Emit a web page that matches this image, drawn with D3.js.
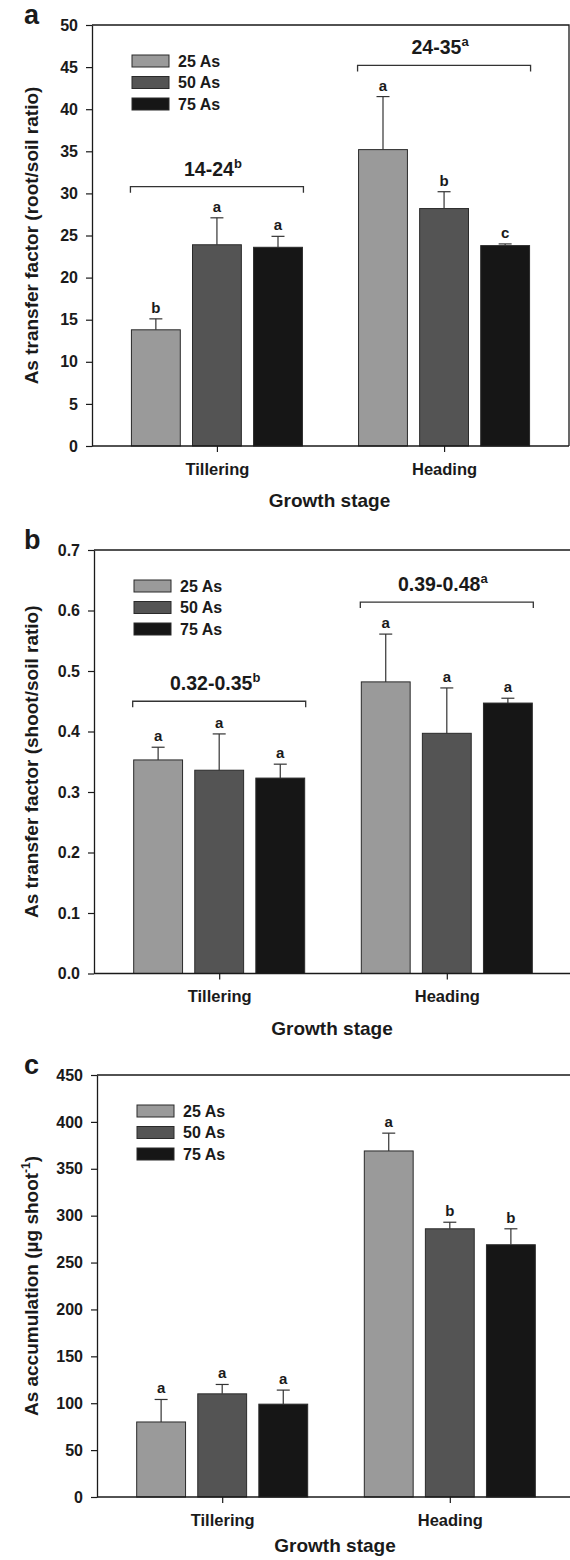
<!DOCTYPE html>
<html>
<head>
<meta charset="utf-8">
<script src="https://cdn.jsdelivr.net/npm/d3@7"></script>
<style>
  body { margin: 0; background: #fff; }
  svg text { font-family: "Liberation Sans", Arial, sans-serif; font-weight: bold; fill: #1a1a1a; }
</style>
</head>
<body>
<div id="chart"></div>
<script>
// categories
const stages = ["Tillering", "Heading"];
const treatments = ["25 As", "50 As", "75 As"];

// a - root/soil transfer factor
const rootMean = [[13.8, 23.9, 23.6], [35.2, 28.2, 23.8]];
const rootErr = [[1.3, 3.2, 1.3], [6.3, 2.0, 0.2]];
const rootLetters = [["b", "a", "a"], ["a", "b", "c"]];
const rootRange = ["14-24", "24-35"];
const rootRangeSig = ["b", "a"];
const rootTicks = [0, 5, 10, 15, 20, 25, 30, 35, 40, 45, 50];

// b - shoot/soil transfer factor
const shootMean = [[0.353, 0.336, 0.323], [0.482, 0.397, 0.447]];
const shootErr = [[0.021, 0.060, 0.023], [0.079, 0.075, 0.008]];
const shootLetters = [["a", "a", "a"], ["a", "a", "a"]];
const shootRange = ["0.32-0.35", "0.39-0.48"];
const shootRangeSig = ["b", "a"];
const shootTicks = [0, 0.1, 0.2, 0.3, 0.4, 0.5, 0.6, 0.7];

// c - accumulation
const accMean = [[80, 110, 99], [369, 286, 269]];
const accErr = [[24, 10, 15], [19, 7, 17]];
const accLetters = [["a", "a", "a"], ["a", "b", "b"]];
const accTicks = [0, 50, 100, 150, 200, 250, 300, 350, 400, 450];

const fills = ["#9a9a9a", "#545454", "#161616"];
const ink = "#1a1a1a";

let width = 570, height = 1560;

let svg = d3.select("#chart").append("svg")
    .attr("width", width)
    .attr("height", height);

function drawPanel(p) {
  let g = svg.append("g");

  let y = d3.scaleLinear().domain([0, p.yMax]).range([p.bottom, p.top]);
  let x = d3.scalePoint().domain(stages).range([p.left, p.right]).padding(0.55);
  let xs = d3.scaleBand().domain(treatments).range([-85.5, 85.5]).paddingInner(0.2);
  let bw = xs.bandwidth();

  // frame (top + right)
  g.append("path")
    .attr("d", "M" + p.left + "," + p.top + "H" + p.right + "V" + p.bottom)
    .attr("fill", "none")
    .attr("stroke", ink)
    .attr("stroke-width", 1.3);

  // bars
  let rows = [];
  stages.forEach(function(s, i) {
    treatments.forEach(function(t, j) {
      rows.push({stage: s, tr: t, j: j, v: p.mean[i][j], e: p.err[i][j], lab: p.letters[i][j]});
    });
  });

  g.selectAll("rect.bar")
    .data(rows)
  .enter().append("rect")
    .attr("class", "bar")
    .attr("x", function(d) { return x(d.stage) + xs(d.tr); })
    .attr("y", function(d) { return y(d.v); })
    .attr("width", bw)
    .attr("height", function(d) { return y(0) - y(d.v); })
    .attr("fill", function(d) { return fills[d.j]; })
    .attr("stroke", "#2a2a2a")
    .attr("stroke-width", 1);

  // error bars (upper only)
  let eb = g.selectAll("g.err")
    .data(rows)
  .enter().append("g")
    .attr("class", "err")
    .attr("transform", function(d) { return "translate(" + (x(d.stage) + xs(d.tr) + bw / 2) + ",0)"; });
  eb.append("line")
    .attr("y1", function(d) { return y(d.v); })
    .attr("y2", function(d) { return y(d.v + d.e); })
    .attr("stroke", "#333").attr("stroke-width", 1.2);
  eb.append("line")
    .attr("x1", -6.5).attr("x2", 6.5)
    .attr("y1", function(d) { return y(d.v + d.e); })
    .attr("y2", function(d) { return y(d.v + d.e); })
    .attr("stroke", "#333").attr("stroke-width", 1.2);
  eb.append("text")
    .attr("y", function(d) { return y(d.v + d.e) - 6; })
    .attr("text-anchor", "middle")
    .style("font-size", "15px")
    .text(function(d) { return d.lab; });

  // range brackets
  if (p.range) {
    stages.forEach(function(s, i) {
      let x0 = x(s) + xs(treatments[0]) - 1,
          x1 = x(s) + xs(treatments[2]) + bw + 1,
          yy = y(p.bracket[i]);
      g.append("path")
        .attr("d", "M" + x0 + "," + (yy + 6) + "V" + yy + "H" + x1 + "V" + (yy + 6))
        .attr("fill", "none")
        .attr("stroke", "#333")
        .attr("stroke-width", 1.3);
      let t = g.append("text")
        .attr("x", x(s) - 4)
        .attr("y", yy - 11)
        .attr("text-anchor", "middle");
      t.append("tspan").style("font-size", "19.5px").text(p.range[i]);
      t.append("tspan").style("font-size", "13px").attr("dy", -8).text(p.rangeSig[i]);
    });
  }

  // axes
  let ya = g.append("g")
    .attr("transform", "translate(" + p.left + ",0)")
    .call(d3.axisLeft(y).tickValues(p.ticks).tickFormat(p.fmt).tickSize(6).tickSizeOuter(0).tickPadding(8));
  let xa = g.append("g")
    .attr("transform", "translate(0," + p.bottom + ")")
    .call(d3.axisBottom(x).tickSize(6).tickSizeOuter(0).tickPadding(11));
  [ya, xa].forEach(function(a) {
    a.select(".domain").attr("stroke", ink).attr("stroke-width", 1.3);
    a.selectAll(".tick line").attr("stroke", ink).attr("stroke-width", 1.2);
    a.selectAll("text").attr("fill", ink).style("font-size", "16px");
  });
  xa.selectAll("text").style("font-size", "16.5px");
  xa.select(".domain").attr("d", "M" + p.left + ",0H" + p.right);

  // legend
  let lg = g.selectAll("g.leg")
    .data(treatments)
  .enter().append("g")
    .attr("class", "leg")
    .attr("transform", function(d, j) { return "translate(" + (p.left + 40) + "," + (p.top + 30 + j * 21.5) + ")"; });
  lg.append("rect")
    .attr("width", 37).attr("height", 12)
    .attr("fill", function(d, j) { return fills[j]; })
    .attr("stroke", "#2a2a2a");
  lg.append("text")
    .attr("x", 46).attr("y", 6).attr("dy", "0.36em")
    .style("font-size", "16px")
    .text(function(d) { return d; });

  // axis titles
  let yt = g.append("text")
    .attr("transform", "translate(31," + ((p.top + p.bottom) / 2) + ") rotate(-90)")
    .attr("text-anchor", "middle")
    .attr("dy", "0.35em")
    .style("font-size", "19px");
  p.title.forEach(function(part) {
    let ts = yt.append("tspan").text(part.t);
    if (part.sup) ts.style("font-size", "12px").attr("dy", -8);
    if (part.down) ts.attr("dy", 8);
  });

  g.append("text")
    .attr("x", (p.left + p.right) / 2 - 1)
    .attr("y", p.bottom + (p.xlabOff || 61))
    .attr("text-anchor", "middle")
    .style("font-size", "19px")
    .text("Growth stage");

  g.append("text")
    .attr("x", 24)
    .attr("y", p.top - 1)
    .style("font-size", "27px")
    .text(p.id);
}

drawPanel({
  id: "a", left: 92, right: 569, top: 25, bottom: 446, yMax: 50,
  ticks: rootTicks, fmt: d3.format("d"),
  mean: rootMean, err: rootErr, letters: rootLetters,
  range: rootRange, rangeSig: rootRangeSig, bracket: [30.8, 45.2],
  title: [{t: "As transfer factor (root/soil ratio)"}]
});

drawPanel({
  id: "b", left: 94, right: 572, top: 550, bottom: 973.5, yMax: 0.7,
  ticks: shootTicks, fmt: d3.format(".1f"),
  mean: shootMean, err: shootErr, letters: shootLetters,
  range: shootRange, rangeSig: shootRangeSig, bracket: [0.450, 0.614],
  title: [{t: "As transfer factor (shoot/soil ratio)"}]
});

// bottom title sits close to the page edge, pulled up a bit
drawPanel({
  id: "c", left: 97, right: 575, top: 1075, bottom: 1497, yMax: 450,
  ticks: accTicks, fmt: d3.format("d"),
  mean: accMean, err: accErr, letters: accLetters, xlabOff: 55,
  title: [{t: "As accumulation (\u00b5g shoot"}, {t: "-1", sup: true}, {t: ")", down: true}]
});
</script>
</body>
</html>
